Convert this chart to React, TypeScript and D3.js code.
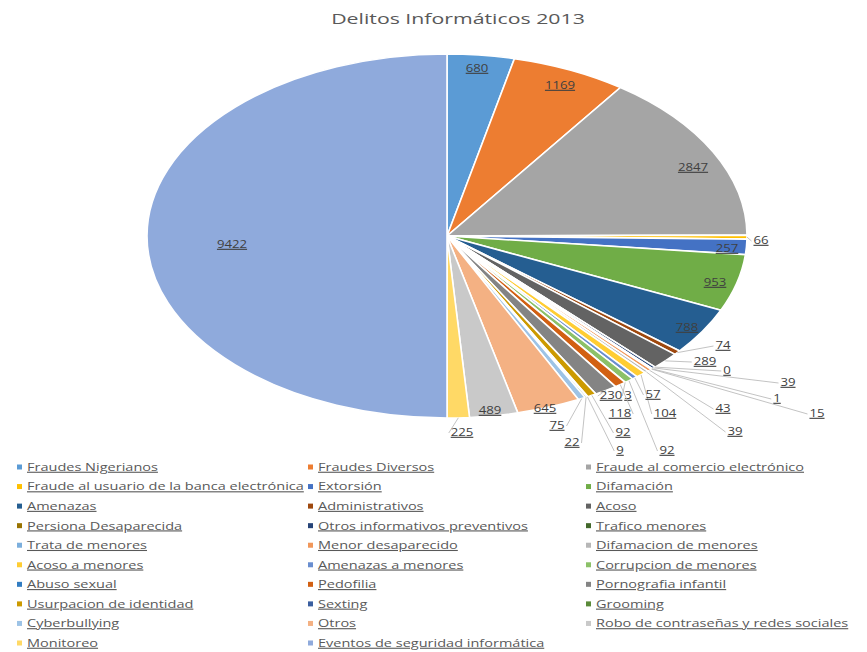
import React from "react";
import * as d3 from "d3";

const title = "Delitos Informáticos 2013";

const categories = [
  "Fraudes Nigerianos",
  "Fraudes Diversos",
  "Fraude al comercio electrónico",
  "Fraude al usuario de la banca electrónica",
  "Extorsión",
  "Difamación",
  "Amenazas",
  "Administrativos",
  "Acoso",
  "Persiona Desaparecida",
  "Otros informativos preventivos",
  "Trafico menores",
  "Trata de menores",
  "Menor desaparecido",
  "Difamacion de menores",
  "Acoso a menores",
  "Amenazas a menores",
  "Corrupcion de menores",
  "Abuso sexual",
  "Pedofilia",
  "Pornografia infantil",
  "Usurpacion de identidad",
  "Sexting",
  "Grooming",
  "Cyberbullying",
  "Otros",
  "Robo de contraseñas y redes sociales",
  "Monitoreo",
  "Eventos de seguridad informática",
];

const values = [
  680, 1169, 2847, 66, 257, 953, 788, 74, 289, 0, 39, 1, 15, 43, 39, 104, 57,
  92, 3, 118, 230, 92, 9, 22, 75, 645, 489, 225, 9422,
];

const colors = [
  "#5B9BD5", "#ED7D31", "#A5A5A5", "#FFC000", "#4472C4", "#70AD47",
  "#255E91", "#9E480E", "#636363", "#997300", "#264478", "#43682B",
  "#7CAFDD", "#F1975A", "#B7B7B7", "#FFCD33", "#698ED0", "#8CC168",
  "#327DC2", "#D26012", "#848484", "#CC9A00", "#3A5FA0", "#5A8A39",
  "#9DC3E6", "#F4B183", "#C9C9C9", "#FFD966", "#8FAADC",
];

// Data-label placement (text anchor points, as Excel laid them out)
const labelAt: [number, number][] = [
  [477, 68], [560, 85], [693, 167], [761, 240], [727, 248], [715, 282],
  [687, 327], [723, 345], [705, 361], [727, 370], [788, 382], [777, 398],
  [817, 413], [723, 408], [735, 431], [665, 413], [653, 394], [667, 450],
  [628, 395], [620, 413], [611, 395], [623, 432], [620, 450], [572, 442],
  [557, 425], [545, 408], [490, 410], [462, 432], [232, 244],
];

const W = 867;
const H = 652;
const cx = 447;
const cy = 236;
const rx = 300;
const ry = 182;
const R = 100;
const SX = 1.2;
const SX_LEGEND = 1.32;
const SX_TITLE = 1.42;
const FONT = "'Open Sans', 'Noto Sans', sans-serif";

export default function App() {
  const pie = d3
    .pie<number>()
    .sort(null)
    .value((d) => d)
    .startAngle(0)
    .endAngle(Math.PI * 2);
  const arcs = pie(values);
  const arc = d3.arc<d3.PieArcDatum<number>>().innerRadius(0).outerRadius(R);

  const legendRow = d3.scaleLinear().domain([0, 9]).range([467, 643]);
  const legendCol = [17, 308, 586];

  return (
    <svg
      width={W}
      height={H}
      style={{ position: "absolute", left: 0, top: 0, background: "#fff" }}
      fontFamily={FONT}
    >
      <text
        transform={`translate(458,24) scale(${SX_TITLE},1)`}
        textAnchor="middle"
        fontSize={15}
        fill="#595959"
      >
        {title}
      </text>

      <g transform={`translate(${cx},${cy}) scale(${rx / R},${ry / R})`}>
        {arcs.map((a, i) => (
          <path
            key={i}
            d={arc(a) || ""}
            fill={colors[i]}
            stroke="#fff"
            strokeWidth={1.6}
            vectorEffect="non-scaling-stroke"
          />
        ))}
      </g>

      {arcs.map((a, i) => {
        const [lx, ly] = labelAt[i];
        const mid = (a.startAngle + a.endAngle) / 2;
        const ex = cx + rx * Math.sin(mid);
        const ey = cy - ry * Math.cos(mid);
        const outside =
          ((lx - cx) / rx) ** 2 + ((ly - cy) / ry) ** 2 > 1;
        const txt = String(values[i]);
        const hw = (txt.length * 7.5) / 2 + 2;
        const endX = lx > ex ? lx - hw : lx + hw;
        return (
          <g key={i}>
            {outside && (
              <line
                x1={ex}
                y1={ey}
                x2={endX}
                y2={ly + 1}
                stroke="#B4B4B4"
                strokeWidth={0.8}
              />
            )}
            <text
              transform={`translate(${lx},${ly}) scale(${SX},1)`}
              textAnchor="middle"
              dy="0.35em"
              fontSize={11}
              fill="#404040"
              style={{ textDecoration: "underline" }}
            >
              {txt}
            </text>
          </g>
        );
      })}

      {categories.map((c, i) => {
        const col = i % 3;
        const row = Math.floor(i / 3);
        const x = legendCol[col];
        const y = legendRow(row);
        return (
          <g key={c}>
            <rect x={x} y={y - 2.5} width={5} height={5} fill={colors[i]} />
            <text
              transform={`translate(${x + 10},${y}) scale(${SX_LEGEND},1)`}
              dy="0.35em"
              fontSize={11}
              fill="#595959"
              style={{ textDecoration: "underline" }}
            >
              {c}
            </text>
          </g>
        );
      })}
    </svg>
  );
}
